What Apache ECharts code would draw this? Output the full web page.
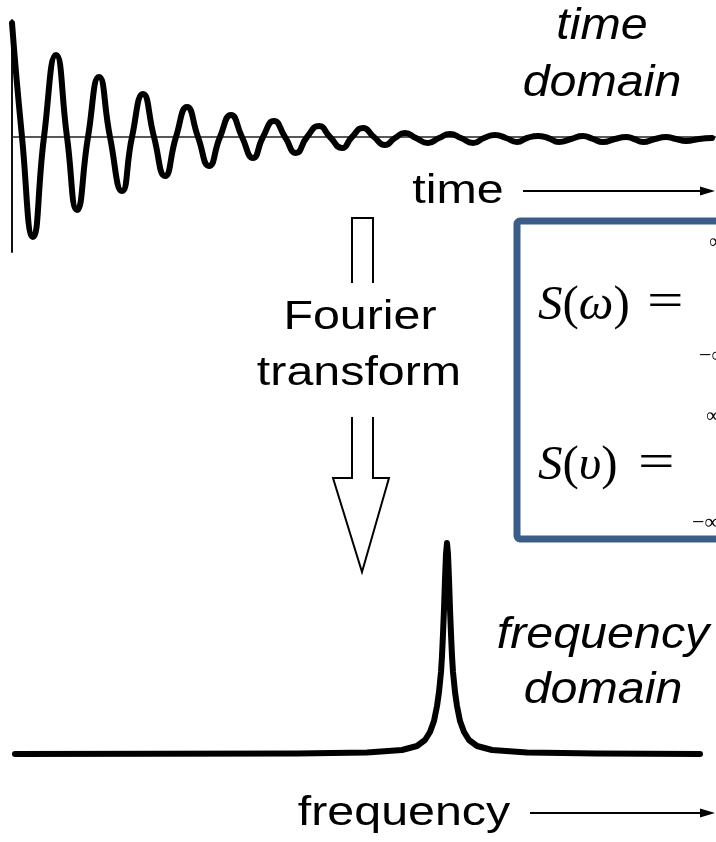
<!DOCTYPE html>
<html><head><meta charset="utf-8">
<script src="https://cdn.jsdelivr.net/npm/echarts@6/dist/echarts.min.js"></script>
<style>html,body{margin:0;padding:0;background:#fff}#c{width:716px;height:842px}</style>
</head><body><div id="c"></div>
<script>
// time-domain signal (x offset from vertical axis, amplitude above baseline)
const timeX = [0,10,21,32,44,55,65,76,87,98,110,120,131,142,153,164,175,186,197,208,219,230,241,251,262,273,284,295,307,318,330,340,351,362,373,383,393,404,416,427,438,449,461,472,483,494,505,515,526,536,547,559,571,581,591,603,614,622,631,643,654,664,674,687,700];
const timeY = [114,0,-100,0,82,0,-73,0,60,0,-54,0,43,0,-39,0,30,0,-29,0,22,0,-21,0,16,0,-16,0,11,0,-11,0,9,0,-8,-1,4,-1,-6,-1,3,-1,-6,-1,2,-1,-5,-1,1,-1,-5,-2,1,-2,-5,-2,0,-2,-5,-2,0,-2,-4,-2,-1];
// frequency-domain spectrum
const freqX = [15,297,367,402,417,425,430,434,437,439,441,442,443,444,445,446,447,448,449,450,451,452,453,455,457,460,464,469,477,492,527,597,700];
const freqY = [0,0.5,1.5,4,8,14,22,33,48,62,82,98,120,145,175,200,211,200,175,145,120,98,82,62,48,33,22,14,8,4,1.5,0.5,0];
// labels
const domainLabels = ['time', 'domain', 'frequency', 'domain'];
const axisLabels = ['time', 'frequency'];
const arrowLabels = ['Fourier', 'transform'];

const chart = echarts.init(document.getElementById('c'), null, {renderer: 'canvas'});
const SANS = '"Liberation Sans", Arial, Helvetica, sans-serif';
const SERIF = '"Liberation Serif", "Times New Roman", serif';
function txt(t, x, y, font, sx) {
  return {type: 'text', x: x, y: y, scaleX: sx || 1, z: 10,
    style: {text: t, font: font, fill: '#000', textAlign: 'center', align: 'center',
      textVerticalAlign: 'middle', verticalAlign: 'middle'}};
}
const blue = '#3B5D8A';
const elements = [
  txt(domainLabels[0], 602, 27, 'italic 44px ' + SANS, 1.1),
  txt(domainLabels[1], 602, 84, 'italic 44px ' + SANS, 1.1),
  txt(domainLabels[2], 603, 636, 'italic 44px ' + SANS, 1.1),
  txt(domainLabels[3], 603, 691, 'italic 44px ' + SANS, 1.1),
  txt(axisLabels[0], 458, 192, '41px ' + SANS, 1.18),
  txt(axisLabels[1], 404, 814, '41px ' + SANS, 1.18),
  txt(arrowLabels[0], 360, 318, '41px ' + SANS, 1.18),
  txt(arrowLabels[1], 359, 374, '41px ' + SANS, 1.18),
  // axis arrows
  {type: 'line', shape: {x1: 523, y1: 191, x2: 704, y2: 191}, style: {stroke: '#000', lineWidth: 2}},
  {type: 'polygon', shape: {points: [[700, 186.5], [715, 191], [700, 195.5]]}, style: {fill: '#000'}},
  {type: 'line', shape: {x1: 530, y1: 813, x2: 704, y2: 813}, style: {stroke: '#000', lineWidth: 2}},
  {type: 'polygon', shape: {points: [[700, 808.5], [715, 813], [700, 817.5]]}, style: {fill: '#000'}},
  // hollow Fourier arrow
  {type: 'polyline', shape: {points: [[352, 283], [352, 218], [373, 218], [373, 283]]}, style: {stroke: '#000', lineWidth: 2, fill: null}},
  {type: 'polyline', shape: {points: [[352, 417], [352, 478], [333, 478], [362, 572], [389, 478], [373, 478], [373, 417]]}, style: {stroke: '#000', lineWidth: 2, fill: null, lineJoin: 'miter'}},
  // formula box
  {type: 'rect', shape: {x: 517, y: 221, width: 260, height: 318, r: 3}, style: {fill: null, stroke: blue, lineWidth: 7}},
  {type: 'text', x: 538, y: 306, z: 10, style: {text: '{i|S}({i|ω})', font: '49px ' + SERIF, fill: '#000',
    textVerticalAlign: 'middle', verticalAlign: 'middle', rich: {i: {font: 'italic 49px ' + SERIF}}}},
  {type: 'text', x: 647, y: 303, z: 10, scaleX: 1.35, style: {text: '=', font: '48px ' + SERIF, fill: '#000', textVerticalAlign: 'middle', verticalAlign: 'middle'}},
  {type: 'text', x: 538, y: 466, z: 10, style: {text: '{i|S}({i|υ})', font: '49px ' + SERIF, fill: '#000',
    textVerticalAlign: 'middle', verticalAlign: 'middle', rich: {i: {font: 'italic 49px ' + SERIF}}}},
  {type: 'text', x: 638, y: 464, z: 10, scaleX: 1.35, style: {text: '=', font: '48px ' + SERIF, fill: '#000', textVerticalAlign: 'middle', verticalAlign: 'middle'}},
  {type: 'text', x: 709, y: 243, z: 10, style: {text: '∞', font: '20px ' + SERIF, fill: '#000', textVerticalAlign: 'middle', verticalAlign: 'middle'}},
  {type: 'text', x: 699, y: 356, z: 10, style: {text: '−∞', font: '22px ' + SERIF, fill: '#000', textVerticalAlign: 'middle', verticalAlign: 'middle'}},
  {type: 'text', x: 706, y: 417, z: 10, style: {text: '∞', font: '20px ' + SERIF, fill: '#000', textVerticalAlign: 'middle', verticalAlign: 'middle'}},
  {type: 'text', x: 692, y: 523, z: 10, style: {text: '−∞', font: '22px ' + SERIF, fill: '#000', textVerticalAlign: 'middle', verticalAlign: 'middle'}}
];

const option = {
  animation: false,
  backgroundColor: '#fff',
  grid: [
    {left: 12, right: 0, top: 20, height: 232},
    {left: 0, right: 0, top: 534, height: 220}
  ],
  xAxis: [
    {gridIndex: 0, type: 'value', min: 0, max: 704, axisLine: {show: true, onZero: true, lineStyle: {color: '#222', width: 1.5}},
      axisTick: {show: false}, axisLabel: {show: false}, splitLine: {show: false}},
    {gridIndex: 1, type: 'value', min: 0, max: 716, show: false}
  ],
  yAxis: [
    {gridIndex: 0, type: 'value', min: -115, max: 117, axisLine: {show: true, onZero: false, lineStyle: {color: '#111', width: 2}},
      axisTick: {show: false}, axisLabel: {show: false}, splitLine: {show: false}},
    {gridIndex: 1, type: 'value', min: 0, max: 220, show: false}
  ],
  series: [
    {type: 'line', xAxisIndex: 0, yAxisIndex: 0, data: timeX.map((x, i) => [x, timeY[i]]),
      smooth: 0.55, symbol: 'none', clip: false,
      lineStyle: {color: '#000', width: 6, cap: 'round', join: 'round'}},
    {type: 'line', xAxisIndex: 1, yAxisIndex: 1, data: freqX.map((x, i) => [x, freqY[i]]),
      smooth: false, symbol: 'none', clip: false,
      lineStyle: {color: '#000', width: 6, cap: 'round', join: 'round'}}
  ],
  graphic: {elements: elements}
};
chart.setOption(option);
</script>
</body></html>
